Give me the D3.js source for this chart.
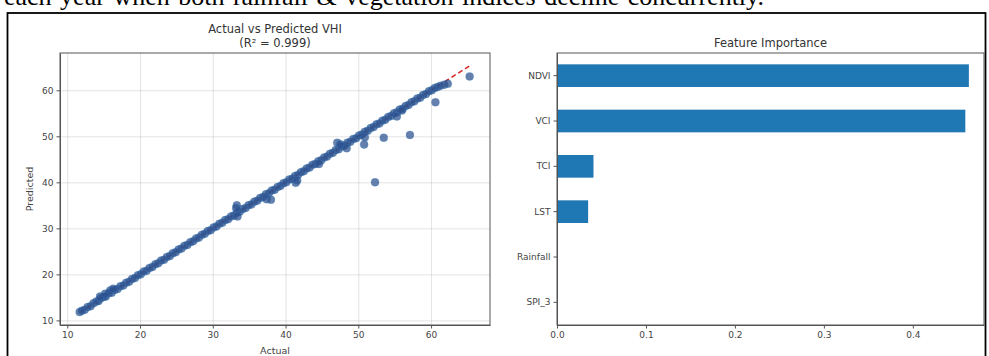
<!DOCTYPE html>
<html>
<head>
<meta charset="utf-8">
<script src="https://cdn.jsdelivr.net/npm/d3@7"></script>
<style>
	body { margin: 0; background: #fff; }
	.axis text { font-family: "DejaVu Sans", sans-serif; font-size: 9px; fill: #444; }
	.axis path, .axis line { stroke: #555; }
	.grid line { stroke: #b0b0b0; stroke-opacity: 0.35; }
	.grid path { display: none; }
</style>
</head>
<body>
<div id="chart"></div>
<script>

// Scatter: points along the diagonal (actual vs predicted VHI)
let bandActual = [11.7, 12.0, 12.4, 12.8, 13.2, 13.6, 14.0, 14.3, 14.6, 15.0, 15.3, 15.7, 16.1, 16.5, 16.9,
	17.3, 17.7, 18.1, 18.5, 18.9, 19.3, 19.7, 20.1, 20.5, 20.9, 21.3, 21.7, 22.1, 22.5, 22.9,
	23.3, 23.7, 24.1, 24.5, 24.9, 25.3, 25.7, 26.1, 26.5, 26.9, 27.3, 27.7, 28.1, 28.5, 28.9,
	29.3, 29.7, 30.1, 30.5, 30.9, 31.3, 31.7, 32.1, 32.5, 32.9, 33.3, 33.7, 34.1, 34.5, 34.9,
	35.3, 35.7, 36.1, 36.5, 36.9, 37.3, 37.7, 38.1, 38.5, 38.9, 39.3, 39.7, 40.1, 40.5, 40.9,
	41.3, 41.7, 42.1, 42.5, 42.9, 43.3, 43.7, 44.1, 44.5, 44.9, 45.3, 45.7, 46.1, 46.5, 46.9,
	47.3, 47.7, 48.1, 48.5, 48.9, 49.3, 49.7, 50.1, 50.5, 50.9, 51.3, 51.7, 52.1, 52.5, 52.9,
	53.3, 53.7, 54.1, 54.5, 54.9, 55.3, 55.7, 56.1, 56.5, 56.9, 57.3, 57.7, 58.1, 58.5, 58.9,
	59.3, 59.7, 60.1, 60.5, 60.9, 61.3, 61.8, 62.3];

let bandPredicted = [11.8, 12.1, 12.3, 12.9, 13.1, 13.7, 14.1, 14.2, 14.8, 15.1, 15.2, 15.9, 16.0, 16.6, 16.8,
	17.4, 17.6, 18.2, 18.4, 19.0, 19.2, 19.8, 20.0, 20.6, 20.8, 21.4, 21.6, 22.2, 22.4, 23.0,
	23.2, 23.8, 24.0, 24.6, 24.8, 25.4, 25.6, 26.2, 26.4, 27.0, 27.2, 27.8, 28.0, 28.6, 28.8,
	29.4, 29.6, 30.2, 30.4, 31.0, 31.2, 31.8, 32.0, 32.6, 32.8, 33.4, 33.6, 34.2, 34.4, 35.0,
	35.2, 35.8, 36.0, 36.6, 36.8, 37.4, 37.6, 38.2, 38.4, 39.0, 39.2, 39.8, 40.0, 40.6, 40.8,
	41.4, 41.6, 42.2, 42.4, 43.0, 43.2, 43.8, 44.0, 44.6, 44.8, 45.4, 45.6, 46.2, 46.4, 47.0,
	47.2, 47.8, 48.0, 48.6, 48.8, 49.4, 49.6, 50.2, 50.4, 51.0, 51.2, 51.8, 52.0, 52.6, 52.8,
	53.4, 53.6, 54.2, 54.4, 55.0, 55.2, 55.8, 56.0, 56.6, 56.8, 57.4, 57.6, 58.2, 58.4, 59.0,
	59.2, 59.8, 60.0, 60.5, 60.7, 61.0, 61.2, 61.4];

// Points that sit off the main band
let outlierActual = [14.5, 15.2, 15.9, 16.3, 33.3, 33.2, 33.4, 37.4, 38.0, 41.4, 41.6, 44.6,
	47.1, 47.5, 48.4, 50.9, 50.8, 52.3, 53.5, 57.1, 60.6, 65.3, 55.3, 56.0];
let outlierPredicted = [15.2, 15.8, 16.5, 16.9, 35.0, 34.4, 32.6, 36.3, 36.2, 39.9, 40.4, 44.0,
	48.6, 48.3, 47.4, 49.8, 48.2, 40.0, 49.7, 50.3, 57.4, 63.0, 54.3, 55.6];

let scatterTicks = [10, 20, 30, 40, 50, 60];

// Feature importance bars
let features = ["NDVI", "VCI", "TCI", "LST", "Rainfall", "SPI_3"];
let importance = [0.463, 0.459, 0.041, 0.035, 0.0004, 0.0002];
let importanceTicks = [0, 0.1, 0.2, 0.3, 0.4];

let width = 989, height = 356;

let svg = d3.select("#chart")
	.append("svg")
	.attr("width", width)
	.attr("height", height);

// Caption text cut off at the top of the crop
svg.append("text")
	.attr("x", 4)
	.attr("y", 5)
	.attr("font-family", "Liberation Serif, serif")
	.attr("font-size", "26px")
	.attr("word-spacing", "2px")
	.attr("fill", "#000")
	.text("each year when both rainfall & vegetation indices decline concurrently.");

// Outer frame of the figure
svg.append("rect")
	.attr("x", 7.5)
	.attr("y", 13)
	.attr("width", 978)
	.attr("height", 360)
	.attr("fill", "none")
	.attr("stroke", "#000")
	.attr("stroke-width", 1.8);

/* -------------- SCATTER --------------- */

let left = {x0: 60, x1: 490, y0: 53, y1: 325};

let xScale = d3.scaleLinear().domain([9.0, 68.1]).range([left.x0, left.x1]);
let yScale = d3.scaleLinear().domain([9.0, 68.1]).range([left.y1, left.y0]);

let gLeft = svg.append("g").attr("class", "scatter");

// grid
gLeft.append("g")
	.attr("class", "grid")
	.attr("transform", "translate(0," + left.y1 + ")")
	.call(d3.axisBottom(xScale).tickValues(scatterTicks).tickSize(-(left.y1 - left.y0)).tickFormat(""));

gLeft.append("g")
	.attr("class", "grid")
	.attr("transform", "translate(" + left.x0 + ",0)")
	.call(d3.axisLeft(yScale).tickValues(scatterTicks).tickSize(-(left.x1 - left.x0)).tickFormat(""));

// perfect-fit reference line
let lineMin = d3.min(bandActual.concat(outlierActual));
let lineMax = d3.max(bandActual.concat(outlierActual));

gLeft.append("line")
	.attr("x1", xScale(lineMin))
	.attr("y1", yScale(lineMin))
	.attr("x2", xScale(lineMax))
	.attr("y2", yScale(lineMax))
	.attr("stroke", "#d62728")
	.attr("stroke-width", 1.6)
	.attr("stroke-dasharray", "5,3");

let allPoints = bandActual.map((a, i) => ({a: a, p: bandPredicted[i]}))
	.concat(outlierActual.map((a, i) => ({a: a, p: outlierPredicted[i]})));

gLeft.selectAll("circle.pt")
	.data(allPoints)
	.enter()
	.append("circle")
	.attr("class", "pt")
	.attr("cx", d => xScale(d.a))
	.attr("cy", d => yScale(d.p))
	.attr("r", 4)
	.attr("fill", "#2b4f8e")
	.attr("fill-opacity", 0.72)
	.attr("stroke", "#3f86bd")
	.attr("stroke-opacity", 0.35)
	.attr("stroke-width", 0.8);

// axes
gLeft.append("g")
	.attr("class", "axis")
	.attr("transform", "translate(0," + left.y1 + ")")
	.call(d3.axisBottom(xScale).tickValues(scatterTicks).tickSize(3.5).tickPadding(3).tickSizeOuter(0));

gLeft.append("g")
	.attr("class", "axis")
	.attr("transform", "translate(" + left.x0 + ",0)")
	.call(d3.axisLeft(yScale).tickValues(scatterTicks).tickSize(3.5).tickPadding(3).tickSizeOuter(0));

gLeft.append("rect")
	.attr("x", left.x0)
	.attr("y", left.y0)
	.attr("width", left.x1 - left.x0)
	.attr("height", left.y1 - left.y0)
	.attr("fill", "none")
	.attr("stroke", "#555")
	.attr("stroke-width", 1);

gLeft.append("text")
	.attr("x", (left.x0 + left.x1) / 2)
	.attr("y", 33)
	.attr("text-anchor", "middle")
	.attr("font-family", "DejaVu Sans, sans-serif")
	.attr("font-size", "11.5px")
	.attr("fill", "#333")
	.text("Actual vs Predicted VHI");

gLeft.append("text")
	.attr("x", (left.x0 + left.x1) / 2)
	.attr("y", 47)
	.attr("text-anchor", "middle")
	.attr("font-family", "DejaVu Sans, sans-serif")
	.attr("font-size", "11.5px")
	.attr("fill", "#333")
	.text("(R² = 0.999)");

gLeft.append("text")
	.attr("x", (left.x0 + left.x1) / 2)
	.attr("y", 354)
	.attr("text-anchor", "middle")
	.attr("font-family", "DejaVu Sans, sans-serif")
	.attr("font-size", "9.5px")
	.attr("fill", "#444")
	.text("Actual");

gLeft.append("text")
	.attr("transform", "translate(33," + ((left.y0 + left.y1) / 2) + ") rotate(-90)")
	.attr("text-anchor", "middle")
	.attr("font-family", "DejaVu Sans, sans-serif")
	.attr("font-size", "9.5px")
	.attr("fill", "#444")
	.text("Predicted");

/* -------------- BAR CHART --------------- */

let right = {x0: 557, x1: 984, y0: 53, y1: 325};

let impScale = d3.scaleLinear().domain([0, 0.48]).range([right.x0, right.x1]);

let featScale = d3.scaleBand()
	.domain(features)
	.range([right.y0, right.y1])
	.paddingInner(0.5)
	.paddingOuter(0.25);

let gRight = svg.append("g").attr("class", "bars");

gRight.selectAll("rect.bar")
	.data(features)
	.enter()
	.append("rect")
	.attr("class", "bar")
	.attr("x", impScale(0))
	.attr("y", d => featScale(d))
	.attr("width", (d, i) => impScale(importance[i]) - impScale(0))
	.attr("height", featScale.bandwidth())
	.attr("fill", "#1f77b4");

gRight.append("g")
	.attr("class", "axis")
	.attr("transform", "translate(0," + right.y1 + ")")
	.call(d3.axisBottom(impScale).tickValues(importanceTicks).tickFormat(d3.format(".1f")).tickSize(3.5).tickPadding(3).tickSizeOuter(0));

gRight.append("g")
	.attr("class", "axis")
	.attr("transform", "translate(" + right.x0 + ",0)")
	.call(d3.axisLeft(featScale).tickSize(3.5).tickPadding(3).tickSizeOuter(0));

gRight.append("rect")
	.attr("x", right.x0)
	.attr("y", right.y0)
	.attr("width", right.x1 - right.x0)
	.attr("height", right.y1 - right.y0)
	.attr("fill", "none")
	.attr("stroke", "#555")
	.attr("stroke-width", 1);

gRight.append("text")
	.attr("x", (right.x0 + right.x1) / 2)
	.attr("y", 47)
	.attr("text-anchor", "middle")
	.attr("font-family", "DejaVu Sans, sans-serif")
	.attr("font-size", "11.5px")
	.attr("fill", "#333")
	.text("Feature Importance");

</script>
</body>
</html>
